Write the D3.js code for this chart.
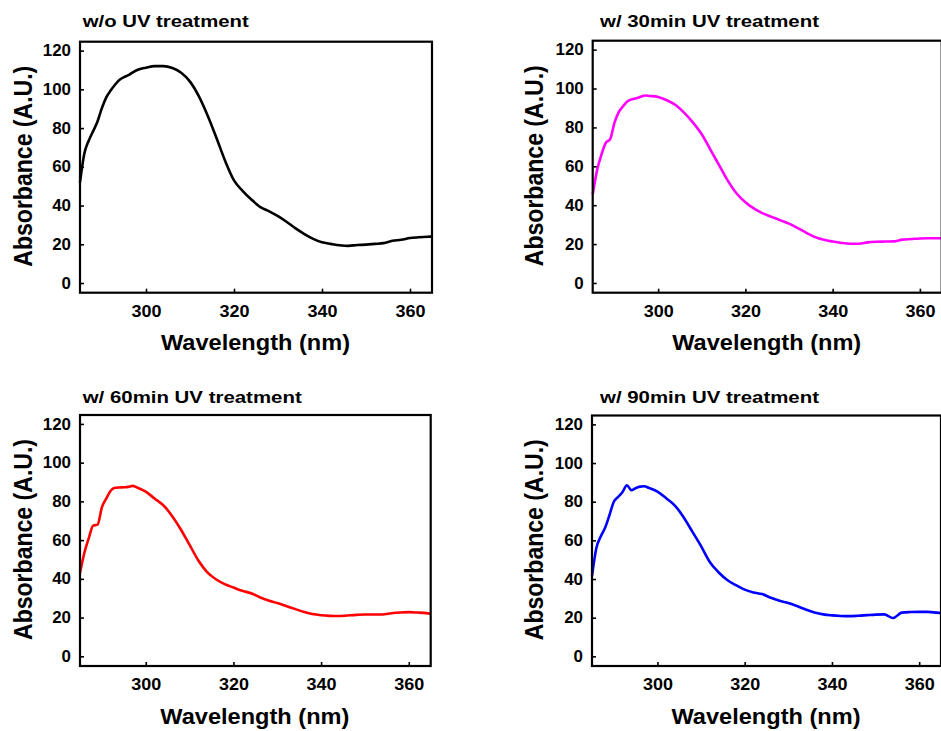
<!DOCTYPE html>
<html>
<head>
    <meta charset="UTF-8" />
    <title>UV treatment absorbance spectra</title>
    <script src="https://d3js.org/d3.v7.min.js"></script>
    <style>
        body { margin: 0; background: white; }
        text { font-family: "Liberation Sans", Arial, sans-serif; font-weight: bold; fill: black; }
        .frame { fill: none; stroke: black; stroke-width: 2.2; }
        .tick line { stroke: black; stroke-width: 1.6; }
        .domain { display: none; }
    </style>
</head>
<body>
<svg width="941" height="731"></svg>
<script>
    // wavelength (nm)
    const wavelengths = [285, 286, 287, 288, 289, 290, 291, 292, 293, 294, 295, 296, 297, 298,
        300, 302, 304, 306, 308, 310, 312, 314, 316, 318, 320, 322, 324, 326, 328, 330,
        332, 334, 336, 338, 340, 342, 344, 346, 348, 350, 352, 354, 356, 358, 360, 362, 364, 365];

    const absNoUV = [52, 67, 73.6, 78.5, 83.5, 90.5, 96, 99.5, 102.5, 105, 106.3, 107.3, 108.8, 110,
        111.2, 112, 112, 111, 108.6, 104, 96.5, 86.5, 75, 63, 53, 47.5, 43, 39.2, 37, 34.5,
        31.5, 28.2, 25.3, 22.8, 21, 20.2, 19.5, 19.2, 19.6, 19.8, 20.2, 20.6, 21.8, 22.3, 23.2, 23.6, 23.9, 24];

    const abs30min = [45.5, 58, 66, 72, 74, 82.5, 88, 91, 93.5, 94.5, 95, 95.8, 96.4, 96.2,
        95.7, 94, 91.5, 87.5, 82.5, 76.5, 68.5, 60.5, 52.5, 46, 41.5, 38.2, 35.8, 34, 32.2, 30.5,
        28.2, 25.8, 23.6, 22.2, 21.3, 20.6, 20.2, 20.2, 20.9, 21.2, 21.3, 21.4, 22.3, 22.6, 22.9, 23, 23, 23];

    const abs60min = [43, 53.5, 61, 67.5, 68, 77, 81.5, 85.5, 87, 87.2, 87.3, 87.5, 88, 87.2,
        85, 81.5, 78, 72.5, 65.5, 57.5, 49.5, 43.5, 39.8, 37.3, 35.5, 33.8, 32.6, 30.5, 28.8, 27.5,
        26, 24.5, 23, 21.8, 21.2, 20.9, 20.8, 21.1, 21.4, 21.6, 21.6, 21.6, 22.2, 22.6, 22.8, 22.6, 22.3, 22];

    const abs90min = [41.5, 56, 62, 66.5, 73, 80, 82.5, 85, 88.5, 86, 87, 87.8, 88, 87.2,
        85.2, 81.8, 78, 72, 64.5, 57, 48.8, 43.5, 39.5, 36.8, 34.5, 33, 32.2, 30.3, 28.7, 27.6,
        26, 24.2, 22.7, 21.7, 21.2, 20.9, 20.8, 21, 21.3, 21.6, 21.7, 19.8, 22.6, 22.9, 23, 23, 22.6, 22.4];

    const titles = ["w/o UV treatment", "w/ 30min UV treatment", "w/ 60min UV treatment", "w/ 90min UV treatment"];
    const xTicks = [300, 320, 340, 360];
    const yTicks = [0, 20, 40, 60, 80, 100, 120];
    const xLabel = "Wavelength (nm)";
    const yLabel = "Absorbance (A.U.)";

    const series = [absNoUV, abs30min, abs60min, abs90min];
    const colors = ["#000000", "#ff00ff", "#ff0000", "#0000ff"];

    // panel boxes
    const layout = [
        { left: 80, top: 41.7, width: 352, height: 251, titleX: 82.7, titleY: 27, titleLen: 166, yLabX: 32 },
        { left: 592.7, top: 40.7, width: 349, height: 252, titleX: 600, titleY: 27, titleLen: 219, yLabX: 542.5 },
        { left: 80, top: 415, width: 350.7, height: 251, titleX: 82.7, titleY: 403, titleLen: 219, yLabX: 32 },
        { left: 592, top: 415.5, width: 349, height: 250.5, titleX: 600, titleY: 402.5, titleLen: 219, yLabX: 542.5 }
    ];

    const svg = d3.select("svg");

    series.forEach(function (vals, i) {
        var L = layout[i];
        var x = d3.scaleLinear().domain([285, 365]).range([0, L.width]);
        var y = d3.scaleLinear().domain([-5, 124.6]).range([L.height, 0]);

        var g = svg.append("g").attr("transform", "translate(" + L.left + "," + L.top + ")");

        // title
        svg.append("text")
            .attr("x", L.titleX).attr("y", L.titleY)
            .attr("font-size", 17)
            .attr("textLength", L.titleLen).attr("lengthAdjust", "spacingAndGlyphs")
            .text(titles[i]);

        // curve
        var line = d3.line()
            .x((d, k) => x(wavelengths[k]))
            .y(d => y(d))
            .curve(d3.curveMonotoneX);

        g.append("path")
            .datum(vals)
            .attr("fill", "none")
            .attr("stroke", colors[i])
            .attr("stroke-width", 2.6)
            .attr("stroke-linejoin", "round")
            .attr("d", line);

        // y axis, ticks pointing in
        var ya = g.append("g")
            .call(d3.axisLeft(y).tickValues(yTicks).tickSizeInner(-4).tickSizeOuter(0).tickPadding(9));
        ya.selectAll("text")
            .attr("font-size", 16)
            .attr("textLength", d => String(d).length * 9.4)
            .attr("lengthAdjust", "spacingAndGlyphs");

        // x axis
        var xa = g.append("g")
            .attr("transform", "translate(0," + L.height + ")")
            .call(d3.axisBottom(x).tickValues(xTicks).tickSizeInner(-4).tickSizeOuter(0).tickPadding(24));
        xa.selectAll("text")
            .attr("dy", null)
            .attr("font-size", 16)
            .attr("textLength", 30)
            .attr("lengthAdjust", "spacingAndGlyphs");

        // frame
        g.append("rect")
            .attr("class", "frame")
            .attr("width", L.width).attr("height", L.height);

        // axis labels
        g.append("text")
            .attr("x", L.width / 2 - 0.5)
            .attr("y", L.height + 57.5)
            .attr("text-anchor", "middle")
            .attr("font-size", 22.5)
            .attr("textLength", 189).attr("lengthAdjust", "spacingAndGlyphs")
            .text(xLabel);

        svg.append("text")
            .attr("transform", "translate(" + L.yLabX + "," + (L.top + L.height / 2 - 1) + ") scale(1.15,1) rotate(-90)")
            .attr("text-anchor", "middle")
            .attr("font-size", 23)
            .attr("textLength", 201).attr("lengthAdjust", "spacingAndGlyphs")
            .text(yLabel);
    });
</script>
</body>
</html>
